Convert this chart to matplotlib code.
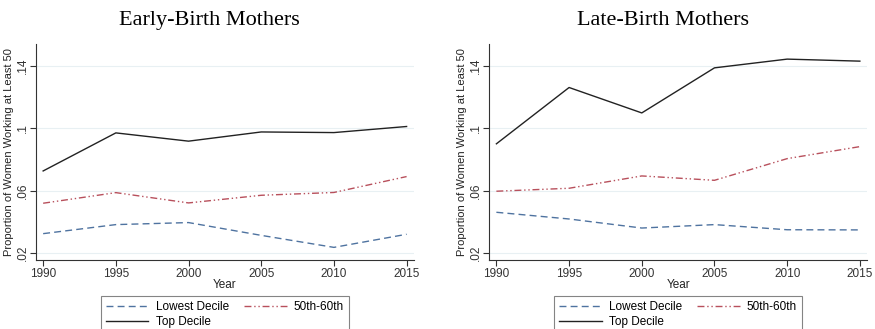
import matplotlib.pyplot as plt
from matplotlib.lines import Line2D

# 年份与各组比例
years = [1990, 1995, 2000, 2005, 2010, 2015]
early_lowest = [0.0324, 0.0382, 0.0395, 0.0313, 0.0236, 0.0320]
early_mid = [0.0519, 0.0587, 0.0521, 0.0570, 0.0588, 0.0690]
early_top = [0.0726, 0.0970, 0.0917, 0.0976, 0.0972, 0.1011]
late_lowest = [0.0461, 0.0418, 0.0360, 0.0382, 0.0349, 0.0348]
late_mid = [0.0596, 0.0615, 0.0694, 0.0666, 0.0805, 0.0882]
late_top = [0.0900, 0.1261, 0.1098, 0.1387, 0.1443, 0.1430]
yticks = [0.02, 0.06, 0.10, 0.14]
ytick_labels = ['.02', '.06', '.1', '.14']
titles = ['Early-Birth Mothers', 'Late-Birth Mothers']

plt.rcParams['font.family'] = ['Liberation Sans', 'DejaVu Sans']

c_low = '#4f73a0'
c_mid = '#b8505c'
c_top = '#222222'

fig = plt.figure(figsize=(8.75, 3.29), dpi=100)
ax1 = fig.add_axes([0.041, 0.2097, 0.432, 0.6566])
ax2 = fig.add_axes([0.559, 0.2097, 0.432, 0.6566])

panels = [(ax1, early_lowest, early_mid, early_top),
          (ax2, late_lowest, late_mid, late_top)]

for (ax, low, mid, top), title in zip(panels, titles):
    for y in yticks:
        ax.axhline(y, color='#e8f0f3', lw=0.8, zorder=0)
    ax.plot(years, low, color=c_low, lw=1.0, dashes=(5, 3))
    ax.plot(years, mid, color=c_mid, lw=1.0, dashes=(5, 2, 1, 2, 1, 2))
    ax.plot(years, top, color=c_top, lw=1.0)
    ax.set_xlim(1989.5, 2015.5)
    ax.set_ylim(0.0155, 0.154)
    ax.set_xticks(years)
    ax.set_yticks(yticks)
    ax.set_yticklabels(ytick_labels, rotation=90, va='center')
    ax.tick_params(labelsize=8.5, length=4, width=0.8, colors='#333333', pad=2)
    ax.tick_params(axis='y', pad=1)
    for s in ['top', 'right']:
        ax.spines[s].set_visible(False)
    for s in ['left', 'bottom']:
        ax.spines[s].set_color('#333333')
        ax.spines[s].set_linewidth(0.8)
    ax.set_xlabel('Year', fontsize=8.5, labelpad=-1, color='#222222')
    ax.set_ylabel('Proportion of Women Working at Least 50', fontsize=8,
                  labelpad=2, color='#222222')
    ax.set_title(title, fontsize=16, family='Liberation Serif', pad=14, x=0.46)

    # 图例放在坐标轴下方，两列
    handles = [Line2D([], [], color=c_low, lw=1.0, dashes=(5, 3)),
               Line2D([], [], color=c_top, lw=1.0),
               Line2D([], [], color=c_mid, lw=1.0, dashes=(5, 2, 1, 2, 1, 2))]
    labels = ['Lowest Decile', 'Top Decile', '50th-60th']
    leg = ax.legend(handles, labels, ncol=2, fontsize=8.5, loc='upper center',
                    bbox_to_anchor=(0.5, -0.137), frameon=True, fancybox=False,
                    edgecolor='#666666', handlelength=3.6, columnspacing=1.3,
                    borderpad=0.45, labelspacing=0.3, handletextpad=0.6)
    leg.get_frame().set_linewidth(0.8)

fig.savefig('out.png', dpi=100)
